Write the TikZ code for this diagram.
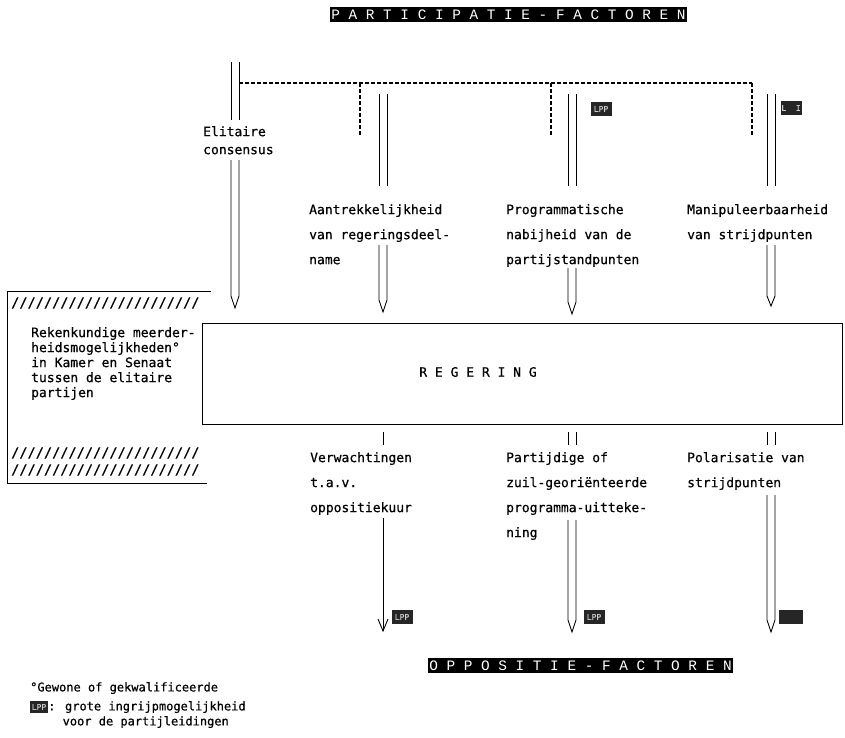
\documentclass[tikz,border=0pt]{standalone}
\usepackage{fontspec}
\newfontfamily\tekst[FakeBold=0.6]{DejaVu Sans Mono}
\newfontfamily\kop{Liberation Mono}
\usetikzlibrary{positioning}

\tikzset{
  lijn/.style={line width=0.9pt, line join=miter},
  streep/.style={line width=1.2pt, dash pattern=on 4pt off 2pt},
  tekstje/.style={font=\fontsize{13}{25}\selectfont\tekst, align=left, inner sep=0pt, anchor=north west},
  titel/.style={fill=black, text=white, font=\fontsize{14.4}{15}\selectfont\kop, inner xsep=1pt, inner ysep=0pt, minimum height=15pt},
  lpp/.style={fill=black!85, text=white!80!black, font=\fontsize{8}{8}\selectfont\tekst, inner sep=0pt, minimum width=21pt, minimum height=14pt}
}

% x, top, end of lines, tip
\newcommand{\dubbelpijl}[4]{\draw[lijn] (#1-4,#2) -- (#1-4,#3) -- (#1,#4) -- (#1+4,#3) -- (#1+4,#2);}
% x, top, bottom
\newcommand{\dubbel}[3]{\draw[lijn] (#1-4,#2) -- (#1-4,#3) (#1+4,#2) -- (#1+4,#3);}

\begin{document}
\begin{tikzpicture}[x=1pt, y=-1pt]
\useasboundingbox (0,0) rectangle (845,737);

% titels
\node[titel] (participatie) at (508.5,14.5) {P A R T I C I P A T I E - F A C T O R E N};
\node[titel] (oppositie) at (580.5,665.5) {O P P O S I T I E - F A C T O R E N};

% regering
\node[draw, lijn, minimum width=640pt, minimum height=101pt, inner sep=0pt] (regering) at (522,373.5) {};
\node[font=\fontsize{13}{13}\selectfont\tekst, inner sep=0pt] (regtekst) at (478,372) {R E G E R I N G};

% linker kader
\draw[lijn] (211,291) -- (7,291) -- (7,483) -- (207,483);
\node[tekstje, anchor=west, font=\fontsize{13.6}{14}\selectfont\tekst] (arcering1) at (11,303) {///////////////////////};
\node[tekstje, anchor=west, font=\fontsize{13.6}{14}\selectfont\tekst] (arcering2) at (11,453) {///////////////////////};
\node[tekstje, anchor=west, font=\fontsize{13.6}{14}\selectfont\tekst] (arcering3) at (11,470) {///////////////////////};
\node[tekstje, font=\fontsize{13}{15}\selectfont\tekst] (rekenkundig) at (31,327)
  {Rekenkundige meerder-\\heidsmogelijkheden°\\in Kamer en Senaat\\tussen de elitaire\\partijen};

% participatie-factoren
\node[tekstje, font=\fontsize{13}{18}\selectfont\tekst] (elitair) at (203,126) {Elitaire\\consensus};
\node[tekstje] (aantrekkelijk) at (309,204) {Aantrekkelijkheid\\van regeringsdeel-\\name};
\node[tekstje] (programmatisch) at (506,204) {Programmatische\\nabijheid van de\\partijstandpunten};
\node[tekstje] (manipuleer) at (687,204) {Manipuleerbaarheid\\van strijdpunten};

\draw[streep] (239,83) -- (752,83);
\draw[streep] (360,83) -- (360,136);
\draw[streep] (551,83) -- (551,136);
\draw[streep] (752,83) -- (752,136);

\dubbel{235}{62}{120}
\dubbelpijl{235}{160}{296}{308}
\dubbel{383}{94}{186}
\dubbelpijl{383}{245}{300}{312}
\dubbel{572}{94}{186}
\dubbelpijl{572}{268}{302}{314}
\dubbel{771}{94}{186}
\dubbelpijl{771}{245}{296}{306}

\node[lpp] (lppC) at (601,109) {LPP};
\node[lpp] (lppD) at (791,108) {L\ \ I};

% oppositie-factoren
\node[tekstje] (verwachting) at (310,452) {Verwachtingen\\t.a.v.\\oppositiekuur};
\node[tekstje] (partijdig) at (506,452) {Partijdige of\\zuil-georiënteerde\\programma-uitteke-\\ning};
\node[tekstje] (polarisatie) at (687,452) {Polarisatie van\\strijdpunten};

\draw[lijn] (383,432) -- (383,445);
\draw[lijn] (383,518) -- (383,631);
\draw[lijn] (378,619) -- (383,631) -- (388,619);
\dubbel{572}{432}{445}
\dubbelpijl{572}{520}{620}{632}
\dubbel{771}{432}{445}
\dubbelpijl{771}{495}{620}{632}

\node[lpp] (lppB2) at (402,617) {LPP};
\node[lpp] (lppC2) at (594,617) {LPP};
\node[lpp, minimum width=24pt] (lppD2) at (791,617) {};

% legenda
\node[tekstje, font=\fontsize{12}{12}\selectfont\tekst] (voetnoot) at (30,682) {°Gewone of gekwalificeerde};
\node[lpp, minimum width=18pt, minimum height=12pt] (lppL) at (39,707) {LPP};
\node[tekstje, font=\fontsize{12}{15}\selectfont\tekst, anchor=north west] (uitleg) at (48,701)
  {: grote ingrijpmogelijkheid\\\ \ voor de partijleidingen};
\end{tikzpicture}
\end{document}
